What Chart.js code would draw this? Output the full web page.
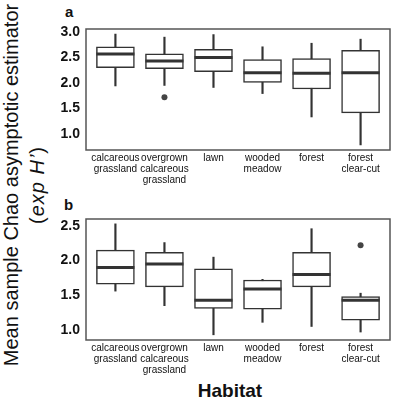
<!DOCTYPE html>
<html>
<head>
<meta charset="utf-8">
<script src="https://cdn.jsdelivr.net/npm/chart.js@4.4.1/dist/chart.umd.min.js"></script>
<style>
  html, body { margin: 0; padding: 0; background: #fff; overflow: hidden; }
  body { width: 394px; height: 398px; position: relative; font-family: "Liberation Sans", Arial, sans-serif; color: #111; }
  .panel { position: absolute; left: 45px; width: 349px; height: 190px; }
  .lbl { position: absolute; white-space: nowrap; }
  .ytitle { position: absolute; width: 420px; height: 20px; line-height: 20px; font-size: 20px; text-align: center; white-space: nowrap; transform: rotate(-90deg); transform-origin: center; }
</style>
</head>
<body>
<div class="ytitle" style="left:-199px; top:175px;">Mean sample Chao asymptotic estimator</div>
<div class="ytitle" style="left:-173px; top:175px; letter-spacing:1px;">(<i>exp H’</i>)</div>
<div class="lbl" style="left:65px; top:4px; font:bold 15px/15px 'Liberation Sans', Arial, sans-serif;">a</div>
<div class="lbl" style="left:64px; top:197px; font:bold 15px/15px 'Liberation Sans', Arial, sans-serif;">b</div>
<div class="lbl" style="left:130px; width:200px; text-align:center; top:381px; font:bold 19px/19px 'Liberation Sans', Arial, sans-serif;">Habitat</div>

<div class="panel" style="top:0px;"><canvas id="chartA" width="349" height="190"></canvas></div>
<div class="panel" style="top:190px;"><canvas id="chartB" width="349" height="190"></canvas></div>

<script>
const categories = [
  ['calcareous', 'grassland'],
  ['overgrown', 'calcareous', 'grassland'],
  ['lawn'],
  ['wooded', 'meadow'],
  ['forest'],
  ['forest', 'clear-cut']
];

// panel a
const aMin = [1.94, 1.95, 1.91, 1.79, 1.33, 0.78];
const aQ1  = [2.30, 2.28, 2.22, 2.01, 1.88, 1.41];
const aMed = [2.57, 2.43, 2.50, 2.20, 2.19, 2.20];
const aQ3  = [2.71, 2.57, 2.66, 2.46, 2.48, 2.64];
const aMax = [2.96, 2.90, 2.95, 2.71, 2.78, 2.86];
const aOutliers = [[2, 1.72]];
const aTicks = [1.0, 1.5, 2.0, 2.5, 3.0];

// panel b
const bMin = [1.56, 1.35, 0.93, 1.11, 1.05, 0.97];
const bQ1  = [1.66, 1.62, 1.31, 1.30, 1.62, 1.14];
const bMed = [1.90, 1.95, 1.43, 1.59, 1.80, 1.43];
const bQ3  = [2.15, 2.12, 1.88, 1.72, 2.12, 1.48];
const bMax = [2.53, 2.26, 2.05, 1.73, 2.46, 1.53];
const bOutliers = [[6, 2.22]];
const bTicks = [1.0, 1.5, 2.0, 2.5];

Chart.defaults.font.family = "'Liberation Sans', Arial, sans-serif";
Chart.defaults.color = '#111';

// median lines + frame around the plot area
const boxExtras = {
  id: 'boxExtras',
  afterDatasetsDraw(chart, args, opts) {
    const ctx = chart.ctx;
    const y = chart.scales.y;
    const boxes = chart.getDatasetMeta(1).data;
    ctx.save();
    ctx.strokeStyle = '#333';
    ctx.lineWidth = 3;
    boxes.forEach((el, i) => {
      const py = y.getPixelForValue(opts.medians[i]);
      ctx.beginPath();
      ctx.moveTo(el.x - el.width / 2, py);
      ctx.lineTo(el.x + el.width / 2, py);
      ctx.stroke();
    });
    const a = chart.chartArea;
    ctx.strokeStyle = '#555';
    ctx.lineWidth = 1.5;
    ctx.strokeRect(a.left, a.top, a.right - a.left, a.bottom - a.top);
    ctx.restore();
  }
};

function makePanel(id, mins, q1s, meds, q3s, maxs, outliers, ticks, yMin, yMax) {
  const ctx = document.getElementById(id).getContext('2d');
  return new Chart(ctx, {
    type: 'bar',
    data: {
      datasets: [{
        // whiskers
        data: categories.map((c, i) => ({ x: i + 1, y: [mins[i], maxs[i]] })),
        backgroundColor: '#333',
        borderWidth: 0,
        barThickness: 1.5,
        grouped: false,
        order: 2
      }, {
        // boxes
        data: categories.map((c, i) => ({ x: i + 1, y: [q1s[i], q3s[i]] })),
        backgroundColor: '#fff',
        borderColor: '#333',
        borderWidth: 1.5,
        borderSkipped: false,
        barThickness: 38,
        grouped: false,
        order: 1
      }, {
        type: 'scatter',
        data: outliers.map(o => ({ x: o[0], y: o[1] })),
        backgroundColor: '#444',
        borderWidth: 0,
        pointRadius: 3,
        order: 0
      }]
    },
    options: {
      responsive: false,
      animation: false,
      devicePixelRatio: 1,
      layout: { padding: { top: 29, right: 1, left: 0, bottom: 0 } },
      plugins: {
        legend: { display: false },
        tooltip: { enabled: false },
        boxExtras: { medians: meds }
      },
      scales: {
        x: {
          type: 'linear',
          offset: false,
          min: 0.4,
          max: 6.6,
          afterBuildTicks: s => { s.ticks = categories.map((c, i) => ({ value: i + 1 })); },
          afterFit: s => { s.height = 40; },
          ticks: {
            callback: (v, i) => categories[i],
            font: { size: 10, lineHeight: 1.1 },
            color: '#111',
            padding: 3,
            maxRotation: 0,
            autoSkip: false
          },
          grid: { display: false, drawTicks: false },
          border: { display: false }
        },
        y: {
          min: yMin,
          max: yMax,
          afterBuildTicks: s => { s.ticks = ticks.map(v => ({ value: v })); },
          afterFit: s => { s.width = 41; },
          ticks: {
            callback: v => v.toFixed(1),
            font: { size: 14, weight: 'bold' },
            color: '#111',
            padding: 6
          },
          grid: { display: false, drawTicks: false },
          border: { display: false }
        }
      }
    },
    plugins: [boxExtras]
  });
}

makePanel('chartA', aMin, aQ1, aMed, aQ3, aMax, aOutliers, aTicks, 0.68, 3.06);
makePanel('chartB', bMin, bQ1, bMed, bQ3, bMax, bOutliers, bTicks, 0.855, 2.60);
</script>
</body>
</html>
